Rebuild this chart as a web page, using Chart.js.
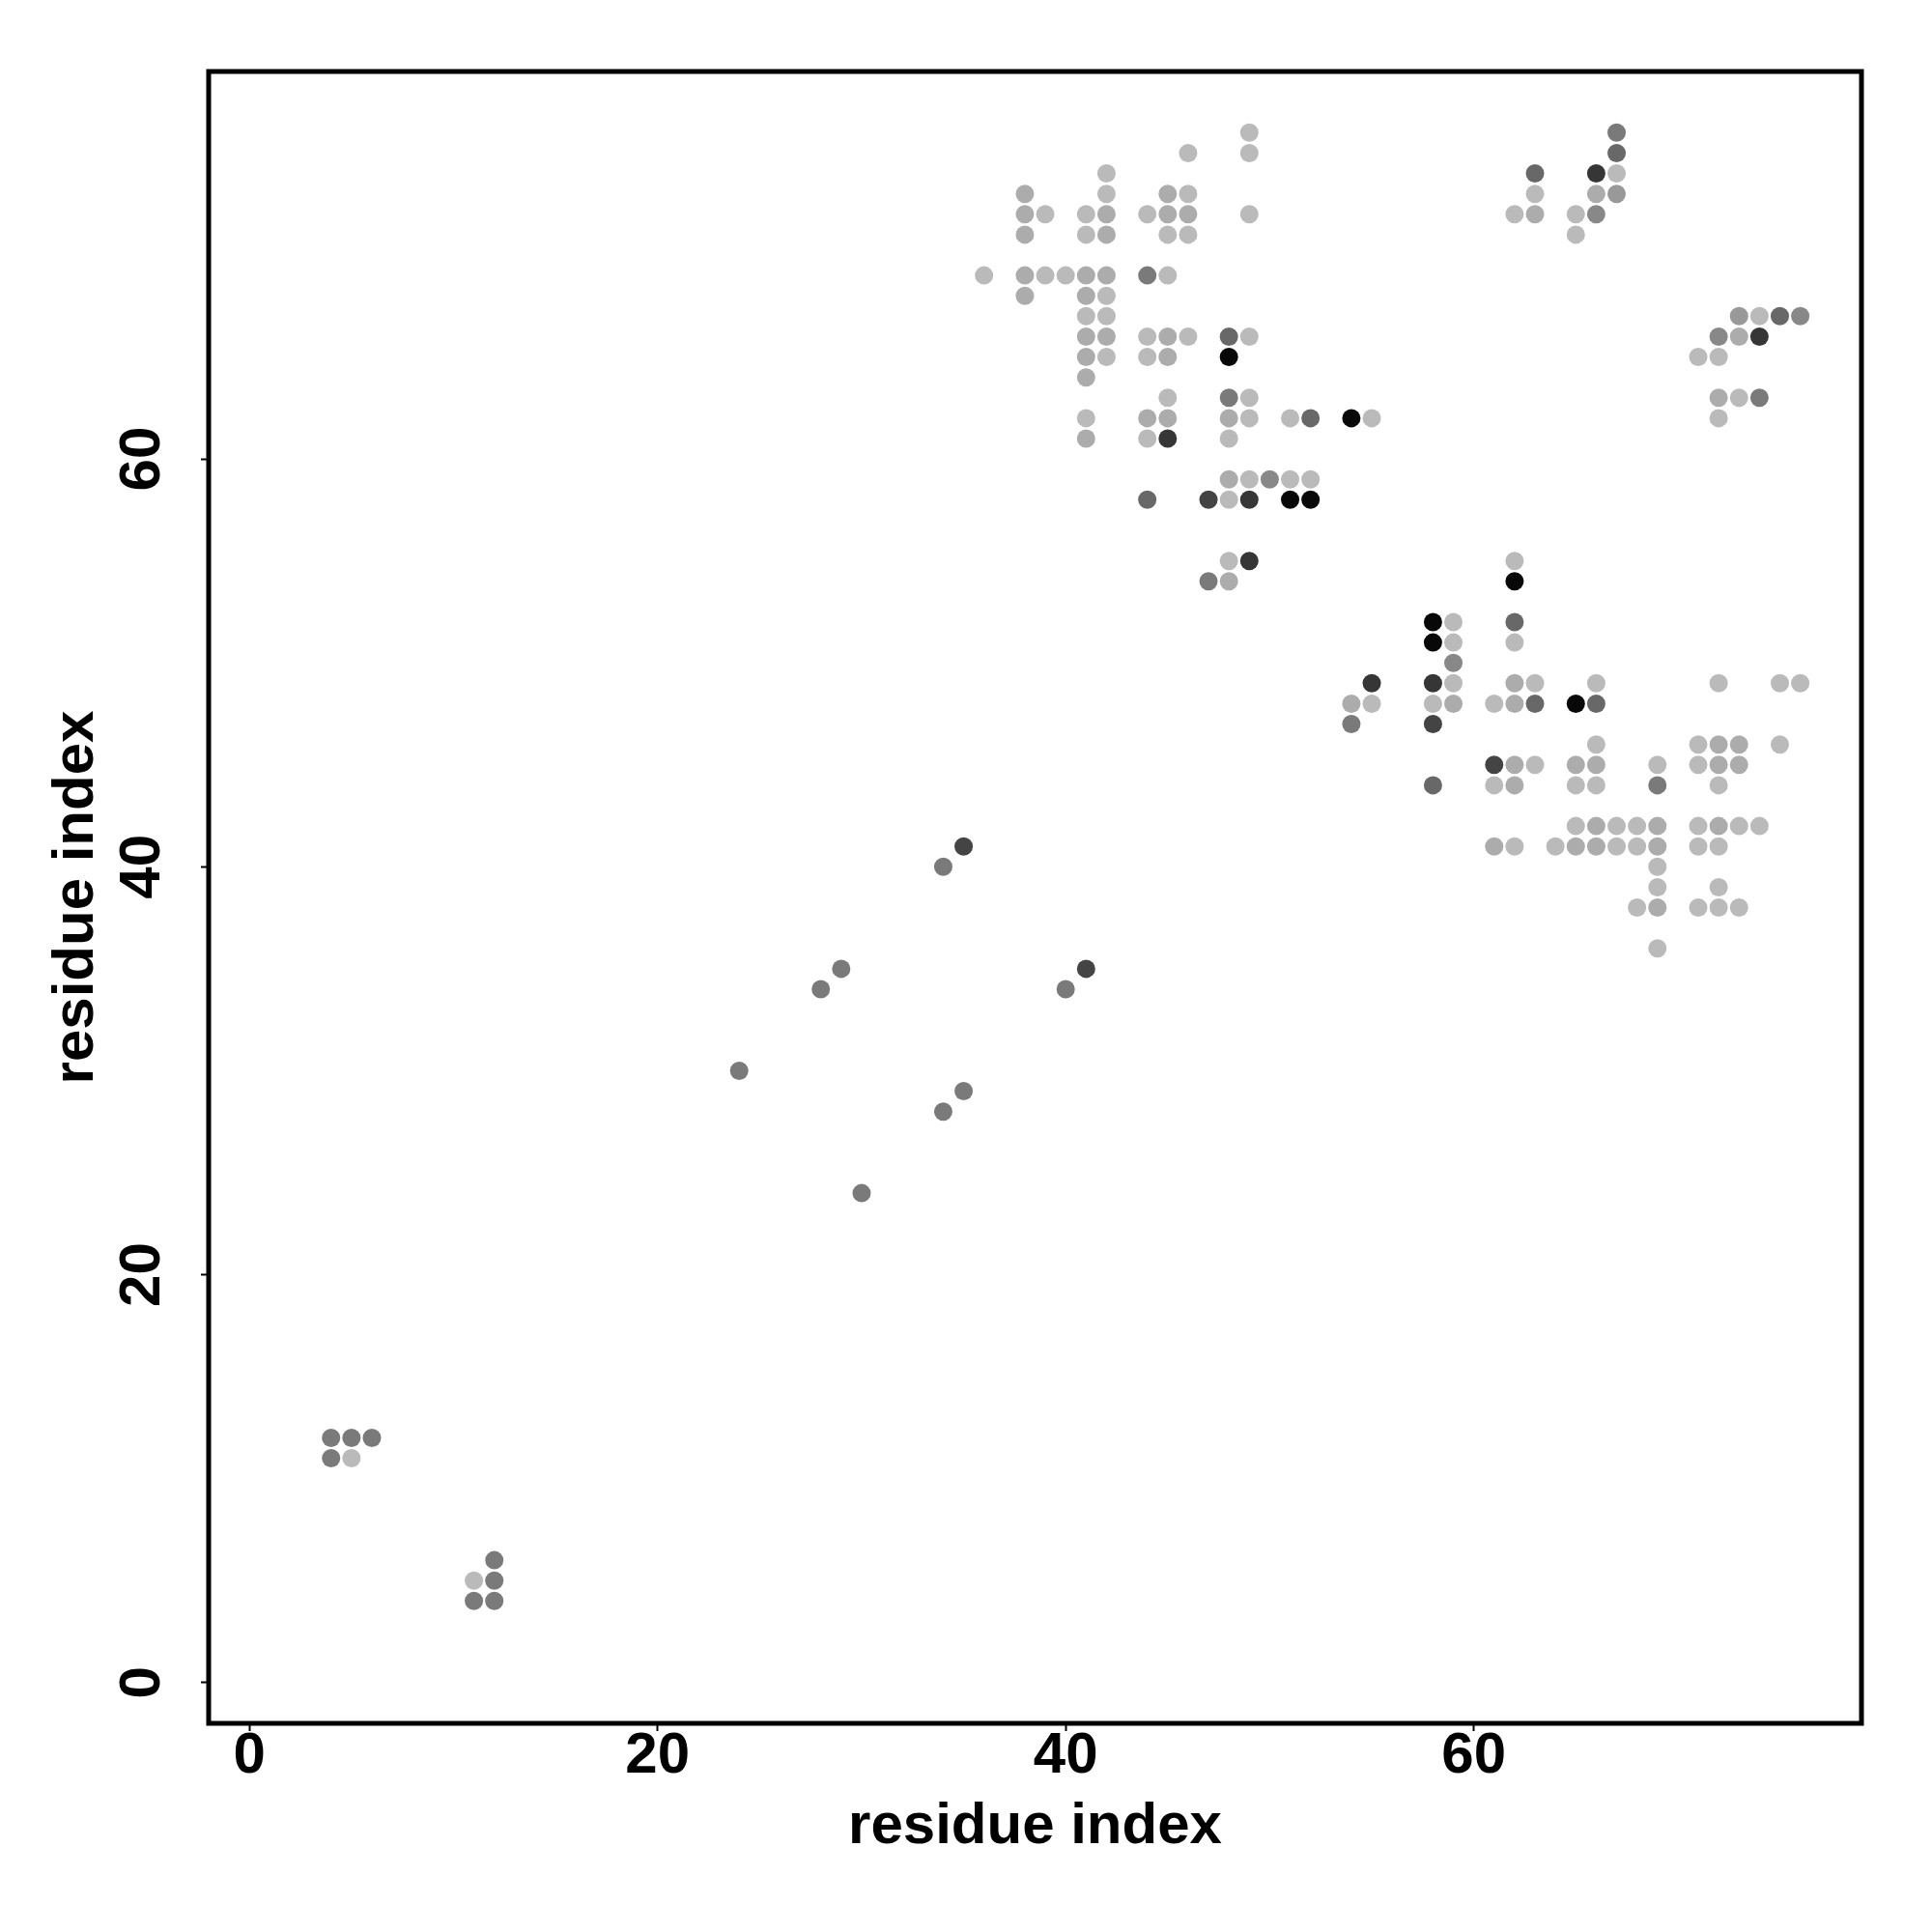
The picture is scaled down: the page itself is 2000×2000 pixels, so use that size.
<!DOCTYPE html>
<html>
<head>
<meta charset="utf-8">
<script src="https://cdn.jsdelivr.net/npm/chart.js@4"></script>
<style>
  html, body { margin: 0; padding: 0; background: #fff; }
  #wrap { width: 2000px; height: 2000px; }
</style>
</head>
<body>
<div id="wrap"><canvas id="contactMap" width="2000" height="2000"></canvas></div>
<script>
// contacts [residue i, residue j], grouped by shade level (1 = lightest, 9 = black)
const level1 = [[49,76],[46,75],[49,75],[42,74],[42,73],[46,73],[39,72],[41,72],[44,72],[49,72],[41,71],[45,71],[46,71],
  [36,69],[39,69],[40,69],[45,69],[42,68],[41,67],[42,67],[44,66],[46,66],[49,66],[42,65],[44,65],[45,63],[49,63],
  [41,62],[49,62],[51,62],[55,62],[44,61],[48,61],[49,59],[51,59],[52,59],[48,58],[48,55],[5,11],[11,5],
  [67,74],[63,73],[62,72],[65,72],[65,71],[74,67],[71,65],[72,65],[73,63],[72,62],[62,55],[59,52],[59,51],[62,51],
  [59,49],[63,49],[66,49],[72,49],[75,49],[76,49],[55,48],[58,48],[61,48],[66,46],[71,46],[75,46],[63,45],[69,45],
  [71,45],[61,44],[65,44],[66,44],[72,44],[65,42],[67,42],[68,42],[71,42],[73,42],[74,42],[62,41],[64,41],[67,41],
  [68,41],[71,41],[72,41],[69,40],[69,39],[72,39],[68,38],[71,38],[72,38],[73,38],[69,36]];
const level2 = [[38,73],[45,73],[38,72],[42,72],[45,72],[46,72],[38,71],[42,71],[38,69],[41,69],[42,69],[38,68],[41,68],
  [41,66],[42,66],[45,66],[41,65],[45,65],[41,64],[44,62],[45,62],[41,61],[48,62],[48,59],[48,54],[66,73],[63,72],
  [73,66],[72,63],[62,49],[54,48],[59,48],[62,48],[72,46],[73,46],[62,45],[65,45],[66,45],[72,45],[73,45],[62,44],
  [66,42],[69,42],[72,42],[61,41],[65,41],[66,41],[69,41],[69,38]];
const level3 = [[67,73],[73,67]];
const level4 = [[50,59],[66,72],[76,67],[72,66],[59,50]];
const level5 = [[44,69],[48,63],[47,54],[67,76],[74,63],[54,47],[69,44],[4,12],[5,12],[6,12],[4,11],[12,6],[12,5],
  [11,4],[12,4],[24,30],[30,24],[28,34],[29,35],[34,40],[34,28],[35,29],[40,34]];
const level6 = [[48,66],[52,62],[44,58],[67,75],[63,74],[75,67],[62,52],[63,48],[66,48],[58,44]];
const level7 = [[47,58],[58,47],[61,45],[35,41],[41,35]];
const level8 = [[45,61],[49,58],[49,55],[66,74],[74,66],[55,49],[58,49]];
const level9 = [[48,65],[54,62],[51,58],[52,58],[62,54],[58,52],[58,51],[65,48]];

const tickValues = [0, 20, 40, 60];
const axisLabel = 'residue index';

const levels = [level1, level2, level3, level4, level5, level6, level7, level8, level9];
const greys = ['#bababa', '#acacac', '#999999', '#888888', '#7a7a7a', '#686868', '#444444', '#363636', '#080808'];

const FONT = '"Liberation Sans", Arial, Helvetica, sans-serif';

// R style box round the plot region
const plotBox = {
    id: 'plotBox',
    afterDraw(chart) {
        const a = chart.chartArea;
        const ctx = chart.ctx;
        ctx.save();
        ctx.strokeStyle = '#000';
        ctx.lineWidth = 5;
        ctx.strokeRect(a.left, a.top, a.right - a.left, a.bottom - a.top);
        ctx.restore();
    }
};

function axisOptions(isX) {
    return {
        type: 'linear',
        min: -2,
        max: 79,
        afterBuildTicks: s => { s.ticks = tickValues.map(v => ({ value: v })); },
        afterFit: s => { if (isX) s.height = 216; else s.width = 216; },
        border: { display: false },
        grid: {
            display: true,
            drawOnChartArea: false,
            drawTicks: true,
            tickLength: 8,
            tickWidth: 2,
            tickColor: '#000'
        },
        ticks: {
            color: '#000',
            autoSkip: false,
            font: { family: FONT, size: 60, weight: 'bold', lineHeight: 1 },
            padding: isX ? -4 : 26,
            minRotation: isX ? 0 : 90,
            maxRotation: isX ? 0 : 90,
            crossAlign: isX ? 'near' : 'center'
        },
        title: {
            display: true,
            text: axisLabel,
            color: '#000',
            font: { family: FONT, size: 60, weight: 'bold', lineHeight: 1 },
            padding: isX ? { top: 0, bottom: 79 } : { top: 49, bottom: 0 }
        }
    };
}

const ctx = document.getElementById('contactMap').getContext('2d');
new Chart(ctx, {
    type: 'scatter',
    data: {
        datasets: levels.map((pts, i) => ({
            label: 'level ' + (i + 1),
            data: pts.map(p => ({ x: p[0], y: p[1] })),
            backgroundColor: greys[i],
            borderWidth: 0,
            pointRadius: 9.5,
            pointHoverRadius: 9.5
        }))
    },
    options: {
        responsive: false,
        devicePixelRatio: 1,
        animation: false,
        layout: { padding: { top: 74, right: 73, bottom: 0, left: 0 } },
        scales: {
            x: axisOptions(true),
            y: axisOptions(false)
        },
        plugins: {
            legend: { display: false },
            tooltip: { enabled: false }
        }
    },
    plugins: [plotBox]
});
</script>
</body>
</html>
